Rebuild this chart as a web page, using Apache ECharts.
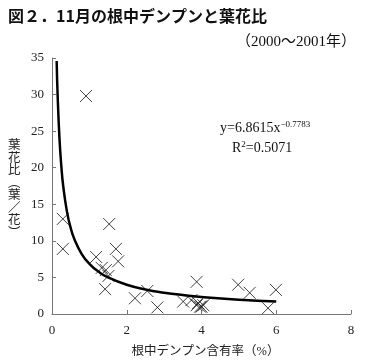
<!DOCTYPE html>
<html><head><meta charset="utf-8">
<script src="https://cdn.jsdelivr.net/npm/echarts@6/dist/echarts.min.js"></script>
<style>html,body{margin:0;padding:0;background:#fff}#c{width:374px;height:364px}</style>
</head><body><div id="c"></div>
<script>
// observed points: starch content (%) and leaf/flower ratio
var starchX = [0.91,0.29,0.29,1.53,1.18,1.71,1.77,1.33,1.44,1.51,1.42,2.22,2.55,2.82,3.87,3.51,3.73,3.91,4.05,3.96,3.87,4.0,4.98,5.29,5.99,5.78];
var ratioY  = [29.8,13.0,8.9,12.3,7.8,8.9,7.2,6.3,6.0,5.2,3.4,2.15,3.15,0.9,4.4,1.7,1.9,1.5,1.2,1.0,1.2,1.0,4.0,2.9,3.3,0.8];
// fitted power curve
var curveX = [0.125,0.15,0.2,0.25,0.3,0.4,0.5,0.6,0.8,1.0,1.25,1.5,2,2.5,3,3.5,4,5,6];
var curveY = [34.6,30.0,24.0,20.2,17.5,14.0,11.77,10.21,8.16,6.86,5.77,5.0,4.0,3.36,2.92,2.59,2.33,1.96,1.7];
var xTicks = [0,2,4,6,8];
var yTicks = [0,5,10,15,20,25,30,35];

var serif = "'Liberation Serif','DejaVu Serif','Noto Sans CJK JP',serif";
var pts = starchX.map(function(x,i){return [x, ratioY[i]];});
var crv = curveX.map(function(x,i){return [x, curveY[i]];});

var chart = echarts.init(document.getElementById('c'));
chart.setOption({
  animation:false,
  backgroundColor:'#fff',
  grid:{left:52,right:23,top:58,bottom:50},
  xAxis:{type:'value',min:0,max:8,interval:2,
    axisLine:{lineStyle:{color:'#777',width:1}},
    axisTick:{inside:true,length:4,lineStyle:{color:'#777'}},
    splitLine:{show:false},
    axisLabel:{color:'#222',fontFamily:serif,fontSize:13,margin:10,
      formatter:function(v){return xTicks.indexOf(v)>=0?String(v):'';}},
    name:'根中デンプン含有率（%）',nameLocation:'middle',nameGap:31,
    nameTextStyle:{color:'#222',fontFamily:serif,fontSize:12.5,padding:[0,0,0,8]}
  },
  yAxis:{type:'value',min:0,max:35,interval:5,
    axisLine:{show:true,lineStyle:{color:'#777',width:1}},
    axisTick:{show:true,inside:true,length:4,lineStyle:{color:'#777'}},
    splitLine:{show:false},
    axisLabel:{color:'#222',fontFamily:serif,fontSize:13,margin:8,
      formatter:function(v){return yTicks.indexOf(v)>=0?String(v):'';}}
  },
  graphic:[
    {type:'text',left:8,top:8,style:{text:'図２．11月の根中デンプンと葉花比',font:"bold 16px 'Noto Sans CJK JP',sans-serif",fill:'#111'}},
    {type:'text',left:236,top:35,style:{text:'（2000～2001年）',font:"15px "+serif,fill:'#111'}},
    {type:'text',left:8,top:138,style:{text:'葉\n花\n比\n︵\n葉\n／\n花\n︶',font:"12.5px 'Noto Sans CJK JP',sans-serif",fill:'#222',lineHeight:12.5,align:'left'}},
    {type:'text',left:220,top:120,style:{rich:{
        n:{font:"14px "+serif,fill:'#111'},
        s:{font:"9px "+serif,fill:'#111',padding:[0,0,8,0]}},
      text:'{n|y=6.8615x}{s|−0.7783}'}},
    {type:'text',left:232,top:140,style:{rich:{
        n:{font:"14px "+serif,fill:'#111'},
        s:{font:"9px "+serif,fill:'#111',padding:[0,0,8,0]}},
      text:'{n|R}{s|2}{n|=0.5071}'}}
  ],
  series:[
    {type:'line',data:crv,smooth:true,showSymbol:false,symbol:'none',
      lineStyle:{color:'#000',width:2.5},z:2},
    {type:'scatter',data:pts,symbol:'path://M0,0L10,10M10,0L0,10',symbolSize:12,
      itemStyle:{color:'none',borderColor:'#111',borderWidth:1},z:3}
  ]
});
</script></body></html>
